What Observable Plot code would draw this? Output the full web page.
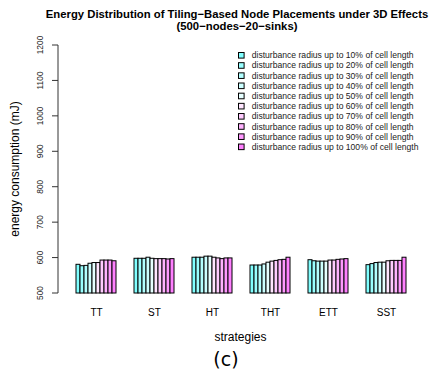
<!DOCTYPE html>
<html><head><meta charset="utf-8">
<script src="https://cdn.jsdelivr.net/npm/d3@7"></script>
<script src="https://cdn.jsdelivr.net/npm/@observablehq/plot@0.6"></script>
<style>body{margin:0;background:#fff} svg{display:block}</style>
</head><body><div id="chart"></div>
<script>
const strategies = ["TT", "ST", "HT", "THT", "ETT", "SST"];
const radii = [10, 20, 30, 40, 50, 60, 70, 80, 90, 100];
const colors = ["#80FFFF", "#99FFFF", "#B3FFFF", "#CCFFFF", "#E6FFFF", "#FFE6FF", "#FFCCFF", "#FFB3FF", "#FF99FF", "#FF80FF"];
const TT  = [581, 577, 578, 584, 586, 586, 593, 593, 593, 591];
const ST  = [598, 598, 598, 601, 598, 597, 597, 597, 596, 597];
const HT  = [601, 601, 601, 604, 604, 601, 599, 597, 599, 599];
const THT = [579, 579, 579, 582, 587, 590, 592, 594, 595, 601];
const ETT = [594, 591, 590, 590, 590, 593, 593, 595, 596, 597];
const SST = [580, 583, 586, 587, 587, 591, 592, 592, 592, 601];
const yTicks = [500, 600, 700, 800, 900, 1000, 1100, 1200];
const titleLines = ["Energy Distribution of Tiling\u2212Based Node Placements under 3D Effects", "(500\u2212nodes\u221220\u2212sinks)"];
const yLabel = "energy consumption (mJ)";
const xLabel = "strategies";
const legendLabels = radii.map(r => `disturbance radius up to ${r}% of cell length`);

const series = {TT, ST, HT, THT, ETT, SST};
const table = strategies.flatMap(s => series[s].map((v, i) => ({strategy: s, radius: radii[i], value: v})));

const font = "'Liberation Sans', Arial, Helvetica, sans-serif";
const plot = Plot.plot({
  width: 431, height: 381,
  marginTop: 45, marginBottom: 88, marginLeft: 58, marginRight: 8,
  style: {fontFamily: font, fontSize: "10px", background: "#fff", color: "#000"},
  fx: {domain: strategies, paddingInner: 0.175, paddingOuter: 0.22, label: null},
  x: {domain: radii, padding: 0, axis: null},
  y: {domain: [500, 1200], label: null, axis: null},
  color: {type: "ordinal", domain: radii, range: colors},
  marks: [
    Plot.rectY(table, {fx: "strategy", x: "radius", y1: 500, y2: "value", fill: "radius", stroke: "#000", strokeWidth: 1}),
    Plot.axisFx({anchor: "bottom", tickSize: 0, tickPadding: 15, label: null, fontSize: 10})
  ]
});
document.getElementById("chart").appendChild(plot);

const svg = d3.select(plot);
const y = plot.scale("y");
const left = 58, right = 423;
const cx = (left + right) / 2;

// y axis: line, ticks, rotated labels from the plot's y scale
const ax = svg.append("g").attr("stroke", "#333");
ax.append("line").attr("x1", left).attr("x2", left)
  .attr("y1", y.apply(500)).attr("y2", y.apply(1200)).attr("stroke-width", 1);
yTicks.forEach(t => {
  ax.append("line").attr("x1", left - 6).attr("x2", left)
    .attr("y1", y.apply(t)).attr("y2", y.apply(t)).attr("stroke-width", 1);
  svg.append("text").attr("transform", `translate(43,${y.apply(t)}) rotate(-90)`)
    .attr("text-anchor", "middle").attr("font-family", font).attr("font-size", 8.4)
    .attr("fill", "#222").text(t);
});

// title
svg.append("text").attr("x", 237).attr("y", 17.5).attr("text-anchor", "middle")
  .attr("font-family", font).attr("font-weight", "bold").attr("font-size", 11.3).text(titleLines[0]);
svg.append("text").attr("x", 237).attr("y", 30).attr("text-anchor", "middle")
  .attr("font-family", font).attr("font-weight", "bold").attr("font-size", 11.3).text(titleLines[1]);

// axis titles
svg.append("text").attr("x", cx).attr("y", 341).attr("text-anchor", "middle")
  .attr("font-family", font).attr("font-size", 12).text(xLabel);
svg.append("text").attr("transform", `translate(19,${(y.apply(500) + y.apply(1200)) / 2}) rotate(-90)`)
  .attr("text-anchor", "middle").attr("font-family", font).attr("font-size", 12).text(yLabel);

// legend
const lg = svg.append("g");
legendLabels.forEach((lab, i) => {
  const yy = 55.3 + i * 10.17;
  lg.append("rect").attr("x", 238.5).attr("y", yy - 2.8).attr("width", 5.6).attr("height", 5.6)
    .attr("fill", colors[i]).attr("stroke", "#000").attr("stroke-width", 1);
  lg.append("text").attr("x", 251.7).attr("y", yy).attr("dy", "0.35em").attr("text-anchor", "start")
    .attr("font-family", font).attr("font-size", 8.6).attr("fill", "#222").text(lab);
});

// panel label
svg.append("text").attr("x", 226).attr("y", 366).attr("text-anchor", "middle")
  .attr("font-family", "'DejaVu Sans', sans-serif").attr("font-size", 19).text("(c)");
</script>
</body></html>
